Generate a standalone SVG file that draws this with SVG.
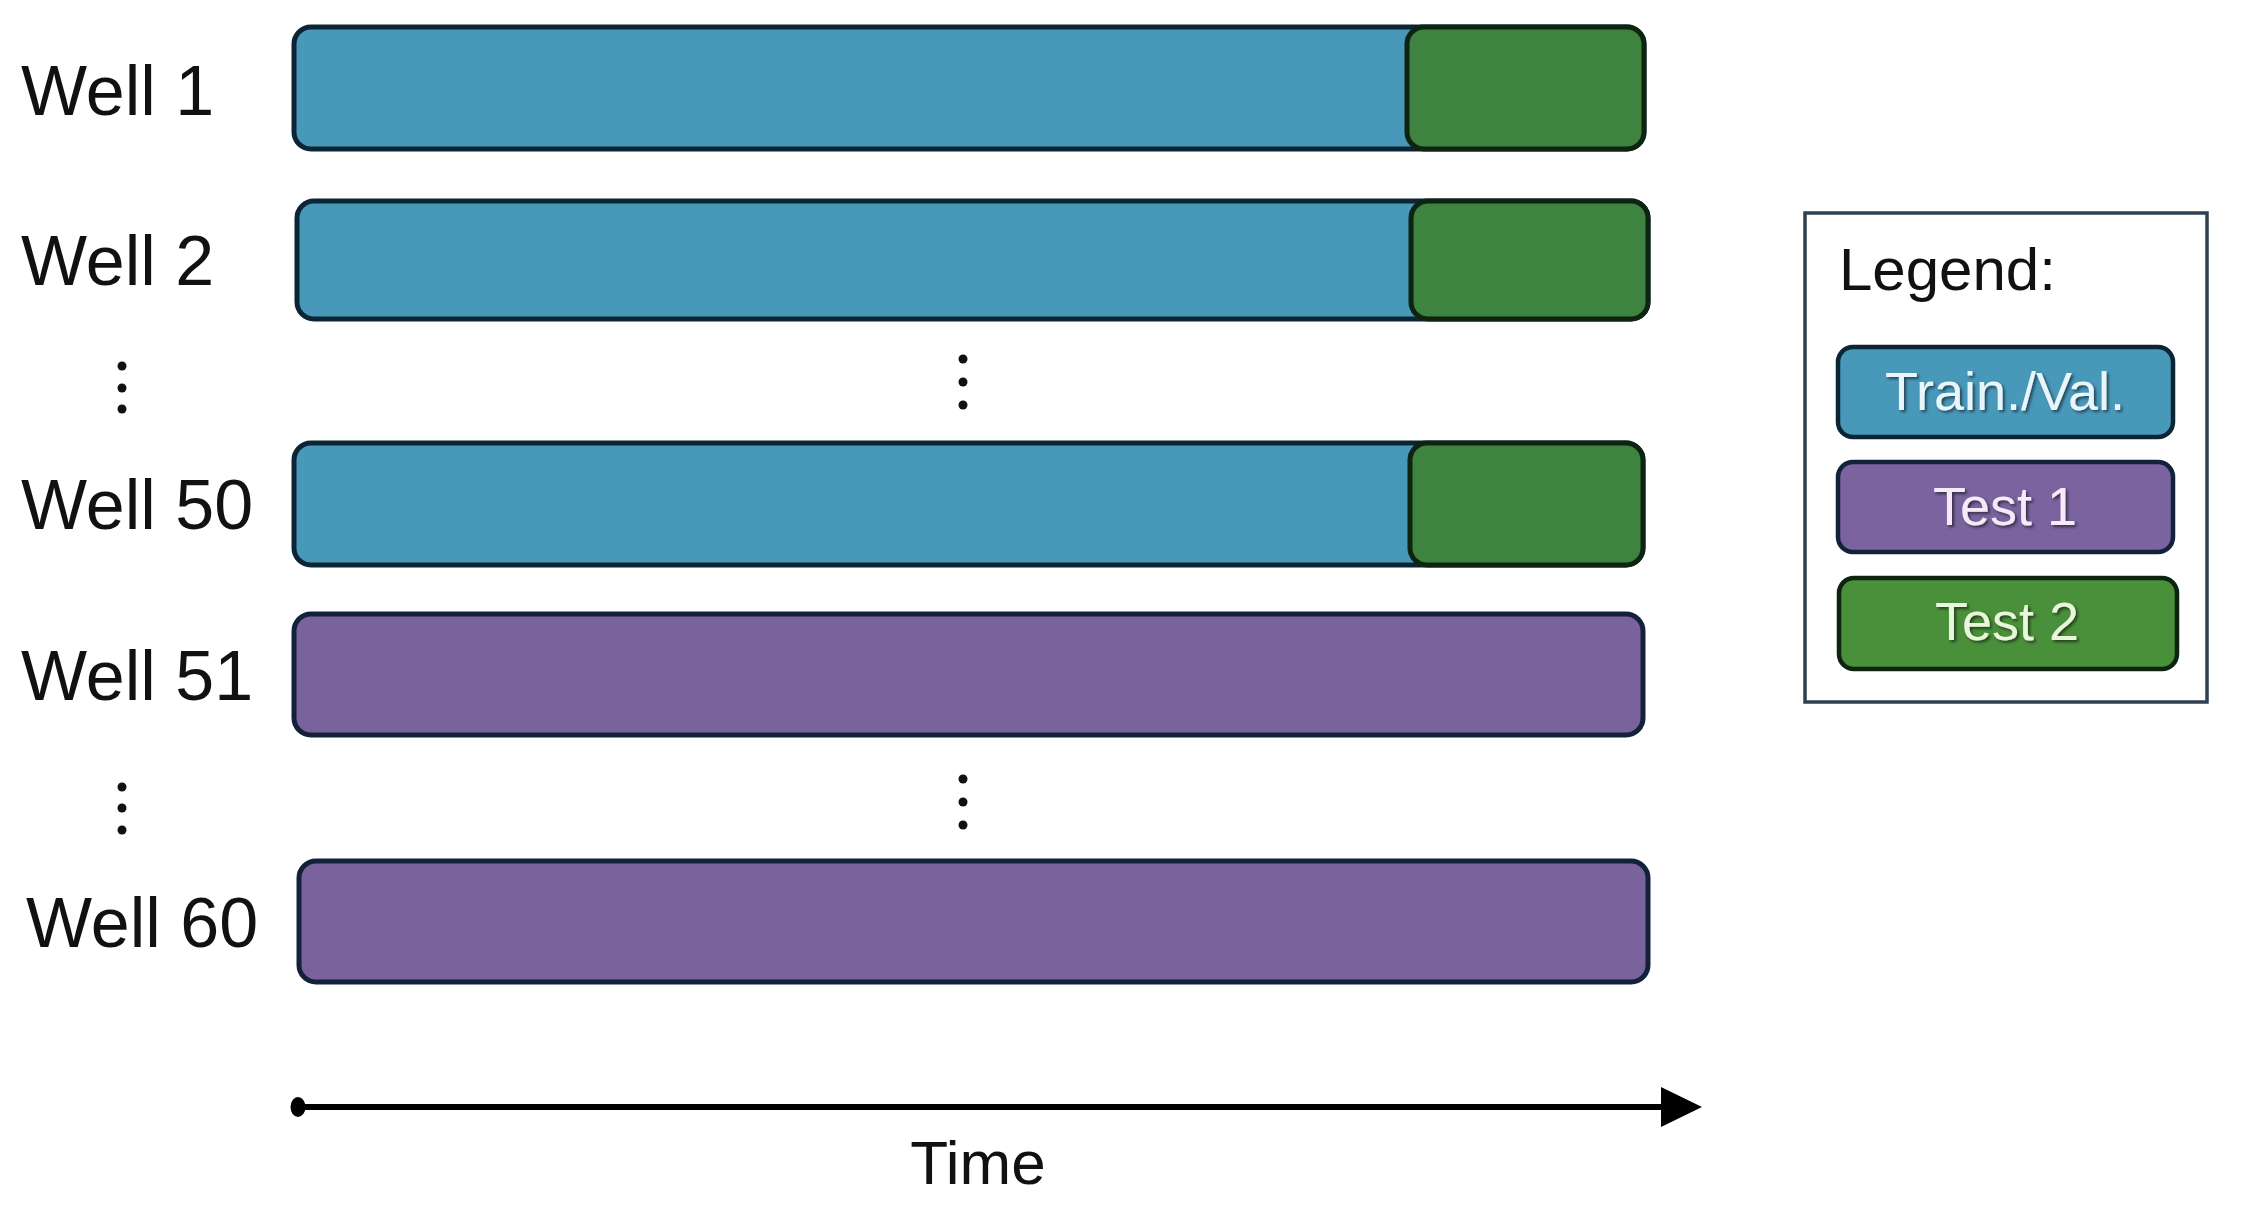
<svg xmlns="http://www.w3.org/2000/svg" width="2248" height="1219" viewBox="0 0 2248 1219">
  <defs>
    <style>
      .lbl { font-family: "Liberation Sans", Arial, sans-serif; font-size: 70px; fill: #111; }
      .bar { stroke-width: 5; }
      .blue { fill: #4898BA; stroke: #0b2535; }
      .green { fill: #3E8340; stroke: #0c2410; }
      .purple { fill: #7A639D; stroke: #14213a; }
      .dot { fill: #111; }
      .leg { font-family: "Liberation Sans", Arial, sans-serif; font-size: 54px; text-anchor: middle; }
    </style>
    <filter id="shadow" x="-10%" y="-20%" width="130%" height="150%">
      <feDropShadow dx="2" dy="2" stdDeviation="1.5" flood-color="#000" flood-opacity="0.55"/>
    </filter>
  </defs>
  <rect width="2248" height="1219" fill="#fff"/>

  <g id="well1">
    <text class="lbl" x="21" y="115">Well 1</text>
    <rect class="bar blue" x="294" y="27" width="1350" height="122" rx="17"/>
    <rect class="bar green" x="1407" y="27" width="237" height="122" rx="17"/>
  </g>
  <g id="well2">
    <text class="lbl" x="21" y="285">Well 2</text>
    <rect class="bar blue" x="297" y="201" width="1351" height="118" rx="17"/>
    <rect class="bar green" x="1411" y="201" width="237" height="118" rx="17"/>
  </g>
  <g id="dots1">
    <circle class="dot" cx="122" cy="366" r="4.5"/>
    <circle class="dot" cx="122" cy="388" r="4.5"/>
    <circle class="dot" cx="122" cy="409" r="4.5"/>
    <circle class="dot" cx="963" cy="359" r="4.5"/>
    <circle class="dot" cx="963" cy="382" r="4.5"/>
    <circle class="dot" cx="963" cy="405" r="4.5"/>
  </g>
  <g id="well50">
    <text class="lbl" x="21" y="529">Well 50</text>
    <rect class="bar blue" x="294" y="443" width="1349" height="122" rx="17"/>
    <rect class="bar green" x="1410" y="443" width="233" height="122" rx="17"/>
  </g>
  <g id="well51">
    <text class="lbl" x="21" y="700">Well 51</text>
    <rect class="bar purple" x="294" y="614" width="1349" height="121" rx="17"/>
  </g>
  <g id="dots2">
    <circle class="dot" cx="122" cy="787" r="4.5"/>
    <circle class="dot" cx="122" cy="808" r="4.5"/>
    <circle class="dot" cx="122" cy="830" r="4.5"/>
    <circle class="dot" cx="963" cy="779" r="4.5"/>
    <circle class="dot" cx="963" cy="802" r="4.5"/>
    <circle class="dot" cx="963" cy="825" r="4.5"/>
  </g>
  <g id="well60">
    <text class="lbl" x="26" y="947">Well 60</text>
    <rect class="bar purple" x="299" y="861" width="1349" height="121" rx="17"/>
  </g>

  <g id="connectors">
    <line x1="297" y1="1107" x2="1665" y2="1107" stroke="#000" stroke-width="6"/>
    <ellipse cx="298" cy="1107" rx="7.5" ry="10" fill="#000"/>
    <polygon points="1661,1087 1702,1107 1661,1127" fill="#000"/>
  </g>
  <g id="time-label">
    <text x="978" y="1184" font-family="'Liberation Sans', Arial, sans-serif" font-size="62" text-anchor="middle" fill="#111">Time</text>
  </g>

  <g id="legend">
    <rect x="1805" y="213" width="402" height="489" fill="#fff" stroke="#2f4050" stroke-width="3.5"/>
    <text x="1839" y="290" font-family="'Liberation Sans', Arial, sans-serif" font-size="60" fill="#111">Legend:</text>
    <g id="legend-train">
      <rect x="1838" y="347" width="335" height="90" rx="15" fill="#4898BA" stroke="#0b2535" stroke-width="4.5"/>
      <text class="leg" x="2005" y="410" fill="#e8f6fb" filter="url(#shadow)">Train./Val.</text>
    </g>
    <g id="legend-test1">
      <rect x="1838" y="462" width="335" height="90" rx="15" fill="#7A639E" stroke="#14213a" stroke-width="4.5"/>
      <text class="leg" x="2005" y="525" fill="#f5e9fa" filter="url(#shadow)" font-size="52">Test 1</text>
    </g>
    <g id="legend-test2">
      <rect x="1839" y="578" width="338" height="91" rx="15" fill="#4A8F3A" stroke="#0c2410" stroke-width="4.5"/>
      <text class="leg" x="2007" y="640" fill="#e8f7dc" filter="url(#shadow)" font-size="52">Test 2</text>
    </g>
  </g>
</svg>
